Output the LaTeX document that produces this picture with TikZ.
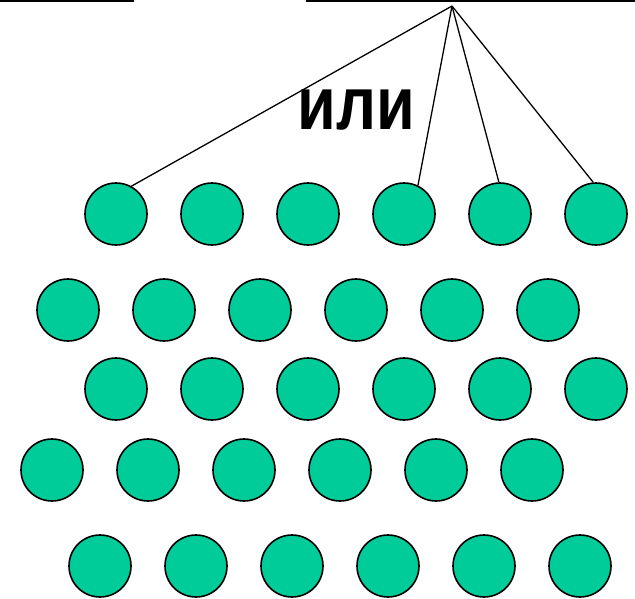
\documentclass[tikz,border=0pt]{standalone}
\usepackage{fontspec}
\setmainfont{Liberation Sans}
\definecolor{ballgreen}{RGB}{0,204,153}
\begin{document}
\begin{tikzpicture}[x=1pt,y=-1pt,
  ball/.style={circle,draw=black,line width=1.6pt,fill=ballgreen,minimum size=62pt,inner sep=0pt},
  link/.style={draw=black,line width=1.3pt},
  edge/.style={draw=black,line width=1.8pt}]
\useasboundingbox (0,0) rectangle (635,598);
% top rules
\coordinate (r1a) at (0,0.9);
\coordinate (r1b) at (134,0.9);
\coordinate (r2a) at (306,0.9);
\coordinate (r2b) at (635,0.9);
\draw[edge] (r1a) -- (r1b);
\draw[edge] (r2a) -- (r2b);
% rows of balls
\foreach \x [count=\i] in {116,212,308,404,500,596} \node[ball] (a\i) at (\x,214) {};
\foreach \x [count=\i] in {68,164,260,356,452,548} \node[ball] (b\i) at (\x,310) {};
\foreach \x [count=\i] in {116,212,308,404,500,596} \node[ball] (c\i) at (\x,389) {};
\foreach \x [count=\i] in {52,148,244,340,436,532} \node[ball] (d\i) at (\x,470) {};
\foreach \x [count=\i] in {100,196,292,388,484,580} \node[ball] (e\i) at (\x,566) {};
% fan of links
\coordinate (apex) at (452,6);
\draw[link] (apex) -- (a1.61);
\draw[link] (apex) -- (a4.64);
\draw[link] (apex) -- (a5.92);
\draw[link] (apex) -- (a6.95);
\node[font=\bfseries\fontsize{75}{75}\selectfont,inner sep=0pt,anchor=base,xscale=0.84] (ili) at (356,129) {или};
\end{tikzpicture}
\end{document}
